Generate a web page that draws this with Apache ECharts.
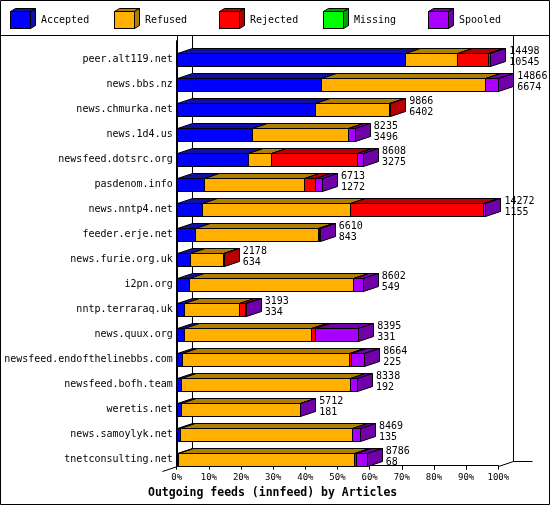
<!DOCTYPE html>
<html><head><meta charset="utf-8">
<script src="https://cdn.jsdelivr.net/npm/echarts@6/dist/echarts.min.js"></script>
<style>html,body{margin:0;padding:0;background:#fff}#c{width:550px;height:505px}</style>
</head><body><div id="c"></div><script>
const hosts = ['peer.alt119.net','news.bbs.nz','news.chmurka.net','news.1d4.us','newsfeed.dotsrc.org','pasdenom.info','news.nntp4.net','feeder.erje.net','news.furie.org.uk','i2pn.org','nntp.terraraq.uk','news.quux.org','newsfeed.endofthelinebbs.com','newsfeed.bofh.team','weretis.net','news.samoylyk.net','tnetconsulting.net'];
const totals   = [14498,14866,9866,8235,8608,6713,14272,6610,2178,8602,3193,8395,8664,8338,5712,8469,8786];
const accepted = [10545,6674,6402,3496,3275,1272,1155,843,634,549,334,331,225,192,181,135,68];
const refused  = [2425,7580,3421,4418,1090,4613,6875,5680,1494,7612,2540,5876,7735,7805,5525,7955,8105];
const rejected = [1420,0,43,0,3968,491,6119,50,50,0,300,170,90,0,0,0,122];
const missing  = [0,0,0,0,0,0,0,0,0,0,0,0,0,0,0,0,0];
const spooled  = [108,612,0,321,275,337,123,37,0,441,19,2018,614,341,6,379,491];
const seriesNames = ['Accepted','Refused','Rejected','Missing','Spooled'];
const xTickMin = 0, xTickMax = 100, xTickStep = 10;
const chartTitle = 'Outgoing feeds (innfeed) by Articles';

const frontColors = ['#0000FF','#FFB000','#FF0000','#00FF00','#AA00FF'];
const darkColors  = ['#1010A8','#B07E00','#B80000','#00A000','#7000A8'];
const FONT = 'DejaVu Sans Mono';

const values = [accepted, refused, rejected, missing, spooled];
const maxTotal = Math.max(...totals);
const segData = seriesNames.map(() => []);
hosts.forEach((h, i) => {
  let cum = 0, lastK = -1;
  values.forEach((arr, k) => { if (arr[i] > 0) lastK = k; });
  values.forEach((arr, k) => {
    const v = arr[i]; if (v <= 0) return;
    segData[k].push([cum / maxTotal * 100, (cum + v) / maxTotal * 100, i, k === lastK ? 1 : 0]);
    cum += v;
  });
});
const labelData = hosts.map((h, i) => [totals[i] / maxTotal * 100, i, totals[i], accepted[i]]);

const snap = v => Math.round(v) + 0.5;
function makeRender(k) {
  return function (params, api) {
    const a = api.coord([api.value(0), api.value(2)]);
    const b = api.coord([api.value(1), api.value(2)]);
    const last = api.value(3);
    const band = api.size([0, 1])[1];
    const h = Math.round(band * 0.5), dy = Math.round(band * 0.2), dx = Math.round(band * 0.6);
    const x0 = snap(a[0]), x1 = snap(b[0]), yt = snap(a[1]), yb = yt + h;
    const st = { stroke: '#000', lineWidth: 1 };
    const children = [
      { type: 'polygon', shape: { points: [[x0, yt], [x1, yt], [x1 + dx, yt - dy], [x0 + dx, yt - dy]] }, style: Object.assign({ fill: darkColors[k] }, st) },
      { type: 'rect', shape: { x: x0, y: yt, width: x1 - x0, height: h }, style: Object.assign({ fill: frontColors[k] }, st) }
    ];
    if (last) children.push({ type: 'polygon', shape: { points: [[x1, yt], [x1 + dx, yt - dy], [x1 + dx, yb - dy], [x1, yb]] }, style: Object.assign({ fill: darkColors[k] }, st) });
    return { type: 'group', children };
  };
}
function renderLabel(params, api) {
  const p = api.coord([api.value(0), api.value(1)]);
  const band = api.size([0, 1])[1];
  const dx = Math.round(band * 0.6);
  const x = p[0] + dx + 4, y = p[1] + 3.5;
  return { type: 'group', children: [
    { type: 'text', style: { text: String(api.value(2)), x: x, y: y - 5.5, fill: '#000', font: '10px "' + FONT + '"', verticalAlign: 'middle', align: 'left' } },
    { type: 'text', style: { text: String(api.value(3)), x: x, y: y + 5.5, fill: '#000', font: '10px "' + FONT + '"', verticalAlign: 'middle', align: 'left' } }
  ] };
}
function cubeIcon(f, d) {
  const svg = '<svg xmlns="http://www.w3.org/2000/svg" width="26" height="24" viewBox="0 0 26 24">' +
    '<polygon points="0.5,3.5 5.5,0.5 25.5,0.5 20.5,3.5" fill="' + d + '" stroke="#000"/>' +
    '<polygon points="20.5,3.5 25.5,0.5 25.5,17.5 20.5,20.5" fill="' + d + '" stroke="#000"/>' +
    '<rect x="0.5" y="3.5" width="20" height="17" fill="' + f + '" stroke="#000"/></svg>';
  return 'image://data:image/svg+xml;charset=utf-8,' + encodeURIComponent(svg);
}
const legendLefts = [10, 114, 219, 323, 428];
const legends = seriesNames.map((n, k) => ({
  data: [{ name: n, icon: cubeIcon(frontColors[k], darkColors[k]) }],
  left: legendLefts[k], top: 8, padding: 0, itemWidth: 26, itemHeight: 24, itemGap: 0,
  selectedMode: false,
  textStyle: { fontFamily: FONT, fontSize: 10, color: '#000' }
}));

const series = seriesNames.map((n, k) => ({
  name: n, type: 'custom', renderItem: makeRender(k), data: segData[k],
  encode: { x: [0, 1], y: 2 }, z: 3, itemStyle: { color: frontColors[k] }
}));
series.push({ name: 'labels', type: 'custom', renderItem: renderLabel, data: labelData, encode: { x: 0, y: 1 }, z: 5 });

const chart = echarts.init(document.getElementById('c'), null, { renderer: 'canvas' });
const option = {
  animation: false,
  backgroundColor: '#fff',
  title: { text: chartTitle, left: 148, top: 487, padding: 0,
    textStyle: { fontFamily: FONT, fontWeight: 'bold', fontSize: 11.5, color: '#000' } },
  legend: legends,
  grid: { left: 176.7, right: 51.7, top: 40.7, bottom: 39.3 },
  xAxis: { type: 'value', min: xTickMin, max: xTickMax, interval: xTickStep,
    axisLine: { show: true, lineStyle: { color: '#000', width: 1 } },
    axisTick: { show: true, length: 4, lineStyle: { color: '#000' } },
    splitLine: { show: false },
    axisLabel: { formatter: '{value}%', fontFamily: FONT, fontSize: 9, color: '#000', margin: 7 } },
  yAxis: { type: 'category', data: hosts, inverse: true,
    axisLine: { show: true, lineStyle: { color: '#000', width: 1 } },
    axisTick: { show: false }, splitLine: { show: false },
    axisLabel: { fontFamily: FONT, fontSize: 10, color: '#000', margin: 4, verticalAlign: 'top', lineHeight: 13 } },
  series: series
};
chart.setOption(option);

const X = v => chart.convertToPixel({ xAxisIndex: 0 }, v);
const Y = v => chart.convertToPixel({ yAxisIndex: 0 }, v);
const band = Y(1) - Y(0);
const ddx = Math.round(band * 0.6), ddy = Math.round(band * 0.2);
const xa0 = Math.round(X(xTickMin)) + 0.5, xa100 = Math.round(X(xTickMax)) + 0.5;
const yBot = Math.round(Y(hosts.length - 1) + band / 2) + 0.5;
const line = (x1, y1, x2, y2) => ({ type: 'line', z: 1, shape: { x1, y1, x2, y2 }, style: { stroke: '#000', lineWidth: 1 } });
chart.setOption({ graphic: [
  { type: 'rect', z: 10, shape: { x: 0.5, y: 0.5, width: 549, height: 504 }, style: { fill: 'none', stroke: '#000', lineWidth: 1 } },
  line(0, 35.5, 550, 35.5),
  line(xa0, 35.5, xa0, yBot),
  line(xa0 + ddx, 35.5, xa0 + ddx, yBot - ddy),
  line(xa100 + ddx, 35.5, xa100 + ddx, yBot - ddy),
  line(xa100, yBot, xa100 + ddx, yBot - ddy),
  line(xa100 + ddx, yBot - ddy, xa100 + ddx + 19, yBot - ddy),
  line(xa0 - ddx, yBot + ddy, xa0, yBot)
] });
</script></body></html>
